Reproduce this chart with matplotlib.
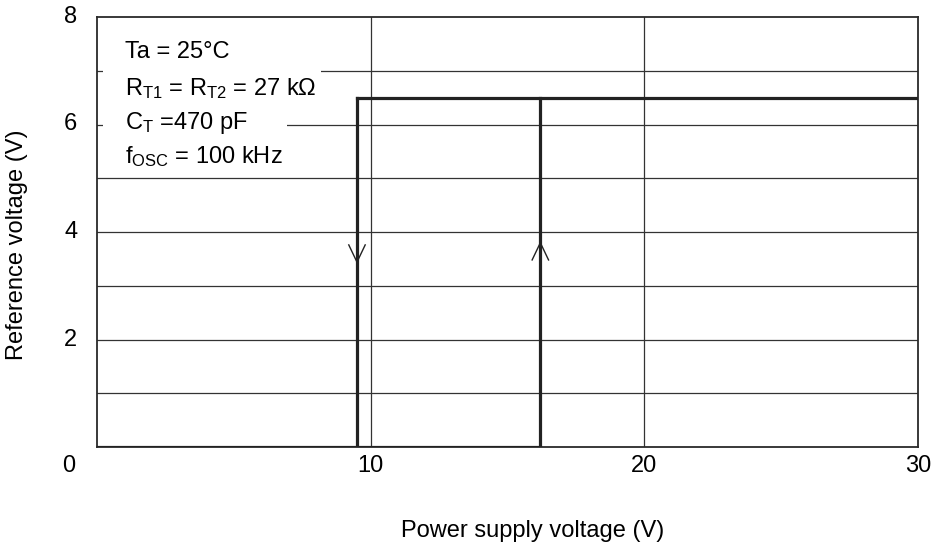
import numpy as np
import matplotlib
matplotlib.use("Agg")
import matplotlib.pyplot as plt
from matplotlib.patches import Rectangle
from matplotlib.transforms import blended_transform_factory

plt.rcParams['font.family'] = ['Liberation Sans', 'DejaVu Sans']
plt.rcParams['mathtext.fontset'] = 'custom'
plt.rcParams['mathtext.rm'] = 'Liberation Sans'
plt.rcParams['mathtext.it'] = 'Liberation Sans'

# hysteresis of the reference voltage
v_off = 9.5      # supply voltage where Vref drops (falling)
v_on = 16.2      # supply voltage where Vref rises (rising)
v_ref = 6.5
x_max = 30
y_max = 8

x_ticks = [0, 10, 20, 30]
y_ticks = [2, 4, 6, 8]
x_grid = [10, 20]
y_grid = [1, 2, 3, 4, 5, 6, 7]

conditions = ["Ta = 25°C",
              r"R$_{\mathrm{T1}}$ = R$_{\mathrm{T2}}$ = 27 k$\Omega$",
              r"C$_{\mathrm{T}}$ =470 pF",
              r"f$_{\mathrm{OSC}}$ = 100 kHz"]

fig = plt.figure(figsize=(9.37, 5.53), dpi=100)
ax = fig.add_axes([97 / 937, 1 - 447 / 553, 821 / 937, 430 / 553])
ax.set_xlim(0, x_max)
ax.set_ylim(0, y_max)
ax.set_xticks([])
ax.set_yticks([])
for s in ax.spines.values():
    s.set_linewidth(1.3)
    s.set_color('#2a2a2a')

for g in x_grid:
    ax.axvline(g, color='#333333', lw=0.9, zorder=1)
for g in y_grid:
    ax.axhline(g, color='#333333', lw=0.9, zorder=1)

lc = '#222222'
lw = 2.3
ax.plot([0, v_on], [0, 0], color=lc, lw=lw, zorder=3)
ax.plot([v_off, v_off], [0, v_ref], color=lc, lw=lw, zorder=3)
ax.plot([v_on, v_on], [0, v_ref], color=lc, lw=lw, zorder=3)
ax.plot([v_off, x_max], [v_ref, v_ref], color=lc, lw=lw, zorder=3)

# open arrow heads on the vertical transitions
aw, ah = 0.3, 0.32
tip_down, tip_up = 3.44, 3.8
ax.plot([v_off - aw, v_off, v_off + aw], [tip_down + ah, tip_down, tip_down + ah],
        color=lc, lw=1.0, zorder=4)
ax.plot([v_on - aw, v_on, v_on + aw], [tip_up - ah, tip_up, tip_up - ah],
        color=lc, lw=1.0, zorder=4)

# conditions block, each line on a white patch that hides the grid
fs = 17
line_y = [52, 89, 123, 157]
texts = []
for txt, py in zip(conditions, line_y):
    t = ax.text(125 / 937, 1 - py / 553, txt, transform=fig.transFigure,
                fontsize=fs, va='center', ha='left', zorder=6)
    texts.append(t)
fig.canvas.draw()
r = fig.canvas.get_renderer()
for t, py in zip(texts, line_y):
    bb = t.get_window_extent(r)
    x0 = 103
    x1 = bb.x1 + 4
    top = py - 36
    bot = py + 17
    ax.add_patch(Rectangle((x0 / 937, 1 - bot / 553), (x1 - x0) / 937, (bot - top) / 553,
                           transform=fig.transFigure, facecolor='white',
                           edgecolor='none', zorder=2))

tx = blended_transform_factory(ax.transData, ax.transAxes)
for t in x_ticks[1:]:
    ax.text(t, -0.044, str(t), transform=tx, ha='center', va='center', fontsize=fs)
ty = blended_transform_factory(ax.transAxes, ax.transData)
for t in y_ticks:
    ax.text(-0.032, t, str(t), transform=ty, ha='center', va='center', fontsize=fs)
ax.text(-0.035, -0.044, "0", transform=ax.transAxes, ha='center', va='center', fontsize=fs)

ax.text(0.53, -0.195, "Power supply voltage (V)", transform=ax.transAxes,
        ha='center', va='center', fontsize=fs)
ax.text(-0.098, 0.47, "Reference voltage (V)", transform=ax.transAxes,
        ha='center', va='center', rotation=90, fontsize=fs)

fig.savefig("out.png", dpi=100)
